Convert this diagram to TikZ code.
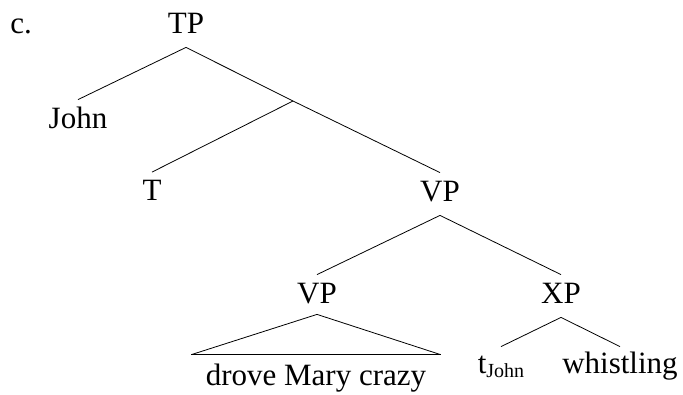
\documentclass[tikz,border=0pt]{standalone}
\usepackage{fontspec}
\setmainfont{Liberation Serif}

\begin{document}
\begin{tikzpicture}
      [x=1pt,y=-1pt,line width=0.8pt,
       every node/.style={font=\fontsize{31}{37}\selectfont,inner sep=6pt,text height=22pt,text depth=8pt},
       leaf/.style={text height=20pt,text depth=0pt}]
      \useasboundingbox (0,0) rectangle (683,394);
      \node[anchor=base west,inner sep=0pt] (lbl) at (10,33) {c.};
      \node[anchor=base] (tp) at (186,33) {TP};
      \node[anchor=base] (john) at (78,128) {John};
      \coordinate (tbar) at (293,101);
      \node[anchor=base] (t) at (152,200.5) {T};
      \node[anchor=base] (vp) at (440,201) {VP};
      \node[anchor=base] (vp2) at (317,303) {VP};
      \node[anchor=base] (xp) at (561,303) {XP};
      \node[anchor=base,inner xsep=14pt,inner ysep=8pt,text depth=0pt] (dmc) at (316,385) {drove Mary crazy};
      \node[anchor=base,leaf] (trace) at (501,373) {t\raisebox{-4pt}{\fontsize{20}{20}\selectfont John}};
      \node[anchor=base,leaf] (whist) at (620,373) {whistling};

      \draw (tp.south) -- (john.north);
      \draw (tp.south) -- (tbar) -- (vp.north);
      \draw (tbar) -- (t.north);
      \draw (vp.south) -- (vp2.north);
      \draw (vp.south) -- (xp.north);
      \draw ([yshift=3pt]vp2.south) -- (dmc.north west);
      \draw ([yshift=3pt]vp2.south) -- (dmc.north east);
      \draw[line width=1.6pt] (dmc.north west) -- (dmc.north east);
      \draw (xp.south) -- (trace.north);
      \draw (xp.south) -- (whist.north);
    \end{tikzpicture}
\end{document}
